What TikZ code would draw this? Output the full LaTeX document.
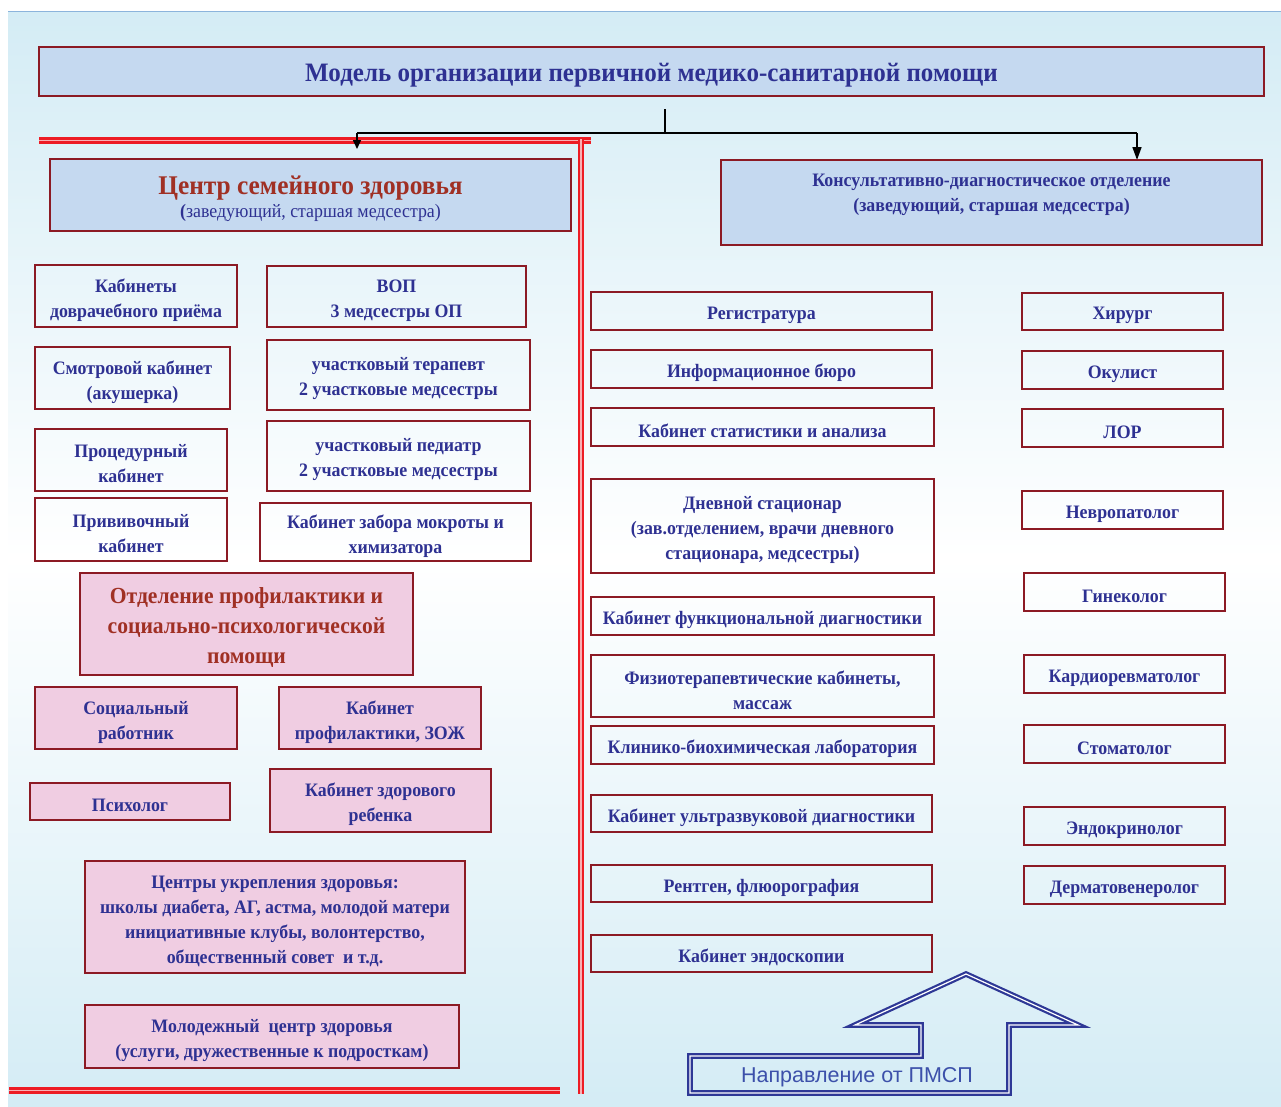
\documentclass[tikz,border=0pt]{standalone}
\usepackage{fontspec}
\setmainfont{Liberation Serif}[FakeStretch=0.94]
\newfontfamily\arrowfont{Liberation Sans}
\usetikzlibrary{arrows.meta}
\definecolor{navy}{RGB}{46,49,146}
\definecolor{dred}{RGB}{160,48,36}
\definecolor{bord}{RGB}{140,26,36}
\definecolor{bluef}{RGB}{197,217,240}
\definecolor{pinkf}{RGB}{240,205,226}
\definecolor{bgblue}{RGB}{212,236,245}
\definecolor{redl}{RGB}{237,28,36}
\definecolor{redgap}{RGB}{248,175,180}
\definecolor{arrnavy}{RGB}{46,56,150}
\definecolor{arrtext}{RGB}{60,80,170}
\newcommand\bx[7]{%
  \node[#6, minimum width={#4-#2}, minimum height={#5-#3}] (#1) at ({(#2+#4)/2},{(#3+#5)/2}) {};
  \node[#6, draw=none, fill=none] (#1-t) at ([yshift=-4pt]#1.center) {#7};}
\begin{document}
\begin{tikzpicture}[x=1pt,y=-1pt,
  wbox/.style={draw=bord, line width=1.7pt, inner sep=0pt, align=center, text=navy,
    font=\bfseries\fontsize{19}{25}\selectfont},
  pbox/.style={wbox, fill=pinkf},
  bbox/.style={wbox, fill=bluef},
  redline/.style={draw=redl, double=redgap, line width=2.6pt, double distance=1.5pt},
  conn/.style={draw=black, line width=1.6pt},
  tipl/.style={-{Triangle[width=8pt,length=9pt]}},
  tipr/.style={-{Triangle[width=9pt,length=13pt]}}]
\useasboundingbox (0,0) rectangle (1281,1106);
\fill[white] (0,0) rectangle (1281,1106);
\shade[top color=bgblue, bottom color=bgblue, middle color=white] (8,11) rectangle (1281,1106);
\draw[draw={rgb,255:red,140;green,180;blue,220}, line width=0.8pt] (8,11) -- (1281,11);

% title
\bx{title}{39}{47}{1264}{96}{bbox}{\fontsize{26.6}{30}\selectfont Модель организации первичной медико-санитарной помощи}

% connectors
\coordinate (top) at (665,109);
\coordinate (split) at (665,133);
\coordinate (lsplit) at (357,133);
\coordinate (rsplit) at (1137,133);
\coordinate (larr) at (357,149);
\coordinate (rarr) at (1137,160);
\draw[conn] (top) -- (split);
\draw[conn] (lsplit) -- (rsplit);

% red lines
\coordinate (r1a) at (39,140.5);
\coordinate (r1b) at (591,140.5);
\coordinate (r2a) at (581,139);
\coordinate (r2b) at (581,1094);
\coordinate (r3a) at (9,1090.5);
\coordinate (r3b) at (560,1090.5);
\draw[redline] (r1a) -- (r1b);
\draw[redline] (r3a) -- (r3b);
\draw[redline] (r2a) -- (r2b);
\draw[conn, tipl] (lsplit) -- (larr);
\draw[conn, tipr] (rsplit) -- (rarr);

% left header
\bx{cfz}{50}{159}{571}{231}{bbox}{{\color{dred}\fontsize{27}{29}\selectfont Центр семейного здоровья}\\[-2pt]{\mdseries\fontsize{19}{21}\selectfont{\bfseries(}заведующий, старшая медсестра)}}

% right header
\bx{kdo}{721}{160}{1262}{245}{bbox}{}
\node[text=navy, align=center, font=\bfseries\fontsize{19}{25}\selectfont] (kdotext) at (991.5,195) {Консультативно-диагностическое отделение\\(заведующий, старшая медсестра)};

% left column
\bx{dovr}{35}{265}{237}{327}{wbox}{Кабинеты\\доврачебного приёма}
\bx{vop}{267}{266}{526}{327}{wbox}{ВОП\\3 медсестры ОП}
\bx{smotr}{35}{347}{230}{409}{wbox}{Смотровой кабинет\\(акушерка)}
\bx{ter}{267}{340}{530}{410}{wbox}{участковый терапевт\\2 участковые медсестры}
\bx{proc}{35}{429}{227}{491}{wbox}{Процедурный\\кабинет}
\bx{ped}{267}{421}{530}{491}{wbox}{участковый педиатр\\2 участковые медсестры}
\bx{priv}{35}{498}{227}{561}{wbox}{Прививочный\\кабинет}
\bx{mokr}{260}{503}{531}{561}{wbox}{Кабинет забора мокроты и\\химизатора}

\bx{otd}{80}{573}{413}{675}{pbox, text=dred, font=\bfseries\fontsize{23}{30}\selectfont}{Отделение профилактики и\\социально-психологической\\помощи}
\bx{soc}{35}{687}{237}{749}{pbox}{Социальный\\работник}
\bx{zozh}{279}{687}{481}{749}{pbox}{Кабинет\\профилактики, ЗОЖ}
\bx{psih}{30}{783}{230}{820}{pbox}{Психолог}
\bx{zdreb}{270}{769}{491}{832}{pbox}{Кабинет здорового\\ребенка}
\bx{cuz}{85}{861}{465}{973}{pbox}{Центры укрепления здоровья:\\школы диабета, АГ, астма, молодой матери\\инициативные клубы, волонтерство,\\общественный совет\ \ и т.д.}
\bx{mol}{85}{1005}{459}{1068}{pbox}{Молодежный\ \ центр здоровья\\(услуги, дружественные к подросткам)}

% middle column
\bx{reg}{591}{292}{932}{330}{wbox}{Регистратура}
\bx{info}{591}{350}{932}{388}{wbox}{Информационное бюро}
\bx{stat}{591}{408}{934}{446}{wbox}{Кабинет статистики и анализа}
\bx{dnev}{591}{479}{934}{573}{wbox}{Дневной стационар\\(зав.отделением, врачи дневного\\стационара, медсестры)}
\bx{func}{591}{597}{934}{635}{wbox}{Кабинет функциональной диагностики}
\bx{fiz}{591}{655}{934}{717}{wbox}{Физиотерапевтические кабинеты,\\массаж}
\bx{lab}{591}{726}{934}{764}{wbox}{Клинико-биохимическая лаборатория}
\bx{uzi}{591}{795}{932}{832}{wbox}{Кабинет ультразвуковой диагностики}
\bx{rent}{591}{865}{932}{902}{wbox}{Рентген, флюорография}
\bx{endo}{591}{935}{932}{972}{wbox}{Кабинет эндоскопии}

% right column
\bx{hir}{1022}{293}{1223}{330}{wbox}{Хирург}
\bx{okul}{1022}{351}{1223}{389}{wbox}{Окулист}
\bx{lor}{1022}{409}{1223}{447}{wbox}{ЛОР}
\bx{nevr}{1022}{491}{1223}{529}{wbox}{Невропатолог}
\bx{gin}{1024}{573}{1225}{611}{wbox}{Гинеколог}
\bx{kard}{1024}{655}{1225}{693}{wbox}{Кардиоревматолог}
\bx{stom}{1024}{725}{1225}{763}{wbox}{Стоматолог}
\bx{endok}{1024}{807}{1225}{845}{wbox}{Эндокринолог}
\bx{derm}{1024}{866}{1225}{904}{wbox}{Дерматовенеролог}

% big arrow
\draw[draw=arrnavy, double=white, line width=2.2pt, double distance=1.2pt, line join=miter]
  (690,1093) -- (690,1056) -- (921,1056) -- (921,1025) -- (855,1025) -- (966,974)
  -- (1078,1025) -- (1009,1025) -- (1009,1093) -- cycle;
\node[text=arrtext, font=\arrowfont\fontsize{21.5}{24}\selectfont] (dir) at (857,1077) {Направление от ПМСП};
\end{tikzpicture}
\end{document}
